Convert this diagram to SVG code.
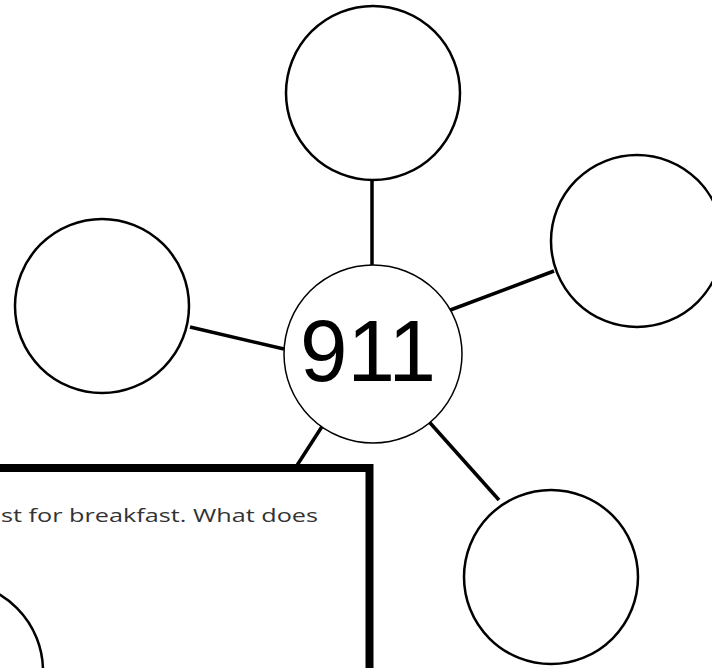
<svg xmlns="http://www.w3.org/2000/svg" width="712" height="668" viewBox="0 0 712 668">
<style>
.node{fill:#fff;stroke:#000;stroke-width:2.5}
.center{fill:#fff;stroke:#000;stroke-width:1.5}
.conn{stroke:#000;stroke-width:3.5;stroke-linecap:butt}
.big{font-family:"Liberation Sans",Arial,sans-serif;font-size:88px;fill:#000}
.q{font-family:"Open Sans","DejaVu Sans",sans-serif;font-size:19px;fill:#333}
</style>
<rect width="712" height="668" fill="#fff"/>
<g id="connectors">
<line class="conn" x1="372" y1="180" x2="372" y2="265"/>
<line class="conn" x1="445" y1="312" x2="554" y2="271"/>
<line class="conn" x1="190" y1="327" x2="284" y2="349"/>
<line class="conn" x1="423" y1="415" x2="499" y2="500"/>
<line class="conn" x1="323" y1="425" x2="294" y2="470"/>
</g>
<g id="node-top"><circle class="node" cx="373" cy="93" r="87"/></g>
<g id="node-right"><circle class="node" cx="637" cy="241" r="86"/></g>
<g id="node-left"><circle class="node" cx="102" cy="306" r="87"/></g>
<g id="node-bottomright"><circle class="node" cx="551" cy="577" r="87"/></g>
<g id="node-center">
<circle class="center" cx="373" cy="354" r="89"/>
<text class="big" x="300" y="381" textLength="136" lengthAdjust="spacingAndGlyphs">911</text>
</g>
<g id="question-box">
<rect x="-10" y="468" width="379.5" height="220" fill="#fff" stroke="#000" stroke-width="8"/>
<text class="q" x="1" y="522" textLength="317" lengthAdjust="spacingAndGlyphs">st for breakfast. What does</text>
<circle class="node" cx="-46" cy="671" r="89"/>
</g>
</svg>
